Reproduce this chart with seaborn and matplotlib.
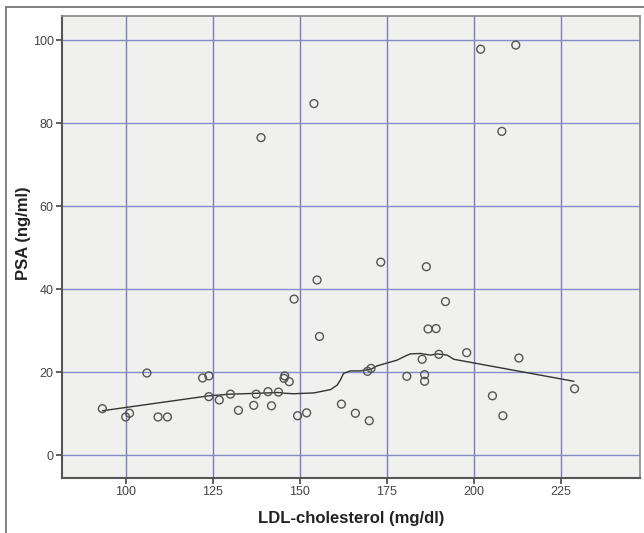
import numpy as np
import pandas as pd
import seaborn as sns
import matplotlib.pyplot as plt
from matplotlib.lines import Line2D

# values
ldl = [93.3, 100.0, 101.1, 106.1, 109.3, 112.0, 122.1, 123.9, 123.9, 126.9,
       130.1, 132.4, 136.8, 137.5, 140.9, 141.9, 143.9, 145.7, 145.5, 147.0,
       148.4, 149.4, 152.0, 155.0, 155.7, 162.0, 154.1, 138.9, 202.0, 212.1,
       208.1, 173.3, 186.4, 191.9, 186.9, 189.2, 198.0, 213.0, 190.0, 185.2,
       170.5, 169.5, 180.8, 185.9, 185.9, 205.4, 229.0, 166.0, 170.0, 208.4]
psa = [11.2, 9.2, 10.1, 19.8, 9.2, 9.2, 18.6, 19.1, 14.1, 13.3,
       14.7, 10.8, 12.0, 14.7, 15.3, 11.9, 15.2, 19.1, 18.5, 17.7,
       37.6, 9.5, 10.2, 42.2, 28.6, 12.3, 84.7, 76.5, 97.8, 98.8,
       78.0, 46.5, 45.4, 37.0, 30.4, 30.5, 24.7, 23.4, 24.3, 23.1,
       20.9, 20.2, 19.0, 19.4, 17.8, 14.3, 16.0, 10.1, 8.3, 9.5]

# loess fit line
fit_x = [93.3, 123.9, 130.1, 137.5, 143.9, 145.9, 148.3, 154.1, 158.9, 160.8,
         161.7, 162.6, 164.6, 167.4, 170.5, 172.2, 175.1, 178.0, 180.4, 181.8,
         184.7, 187.6, 189.5, 192.4, 194.3, 228.8]
fit_y = [10.7, 14.3, 14.7, 14.9, 15.1, 14.9, 14.8, 15.0, 15.8, 16.9,
         18.1, 19.7, 20.3, 20.3, 20.7, 21.5, 22.2, 22.9, 23.9, 24.4,
         24.5, 24.1, 24.4, 24.1, 23.1, 17.8]

x_ticks = [100, 125, 150, 175, 200, 225]
y_ticks = [0, 20, 40, 60, 80, 100]

sns.set_style("ticks")
plt.rcParams['font.family'] = ['Liberation Sans', 'DejaVu Sans']

df = pd.DataFrame({"ldl": ldl, "psa": psa})
fit = pd.DataFrame({"x": fit_x, "y": fit_y})

fig = plt.figure(figsize=(6.44, 5.33), dpi=100)
ax = fig.add_axes([62 / 644, 1 - 478 / 533, (640 - 62) / 644, (478 - 16) / 533])
ax.set_facecolor('#f0f0ee')

for v in x_ticks:
    ax.axvline(v, color='#7c7cb8', lw=1.0, zorder=1)
for v in y_ticks:
    ax.axhline(v, color='#8a8ac8', lw=1.0, zorder=1)

sns.lineplot(data=fit, x="x", y="y", sort=False, estimator=None,
             color='#333333', lw=1.0, ax=ax, zorder=2)
sns.scatterplot(data=df, x="ldl", y="psa", marker='o', s=32,
                facecolors='none', edgecolor='#555555', linewidth=1.0,
                ax=ax, zorder=3)

ax.set_xlim(81.7, 247.8)
ax.set_ylim(-5.5, 105.8)
ax.set_xticks(x_ticks)
ax.set_yticks(y_ticks)
ax.tick_params(axis='both', length=4, width=1.2, color='#444444',
               labelsize=9, labelcolor='#444444', pad=2)

ax.set_xlabel("LDL-cholesterol (mg/dl)", fontsize=12, fontweight='bold',
              color='#222222', labelpad=9)
ax.set_ylabel("PSA (ng/ml)", fontsize=12, fontweight='bold', color='#222222')
ax.yaxis.set_label_coords(-0.054, 0.53)

for side in ['left', 'bottom']:
    ax.spines[side].set_color('#555555')
    ax.spines[side].set_linewidth(1.5)
for side in ['top', 'right']:
    ax.spines[side].set_color('#888888')
    ax.spines[side].set_linewidth(1.2)

# outer frame lines
fig.add_artist(Line2D([6 / 644, 6 / 644], [0, 1 - 6.5 / 533], color='#777777', lw=1.3))
fig.add_artist(Line2D([6 / 644, 1], [1 - 6.5 / 533, 1 - 6.5 / 533], color='#777777', lw=1.3))

fig.savefig("out.png", dpi=100)
